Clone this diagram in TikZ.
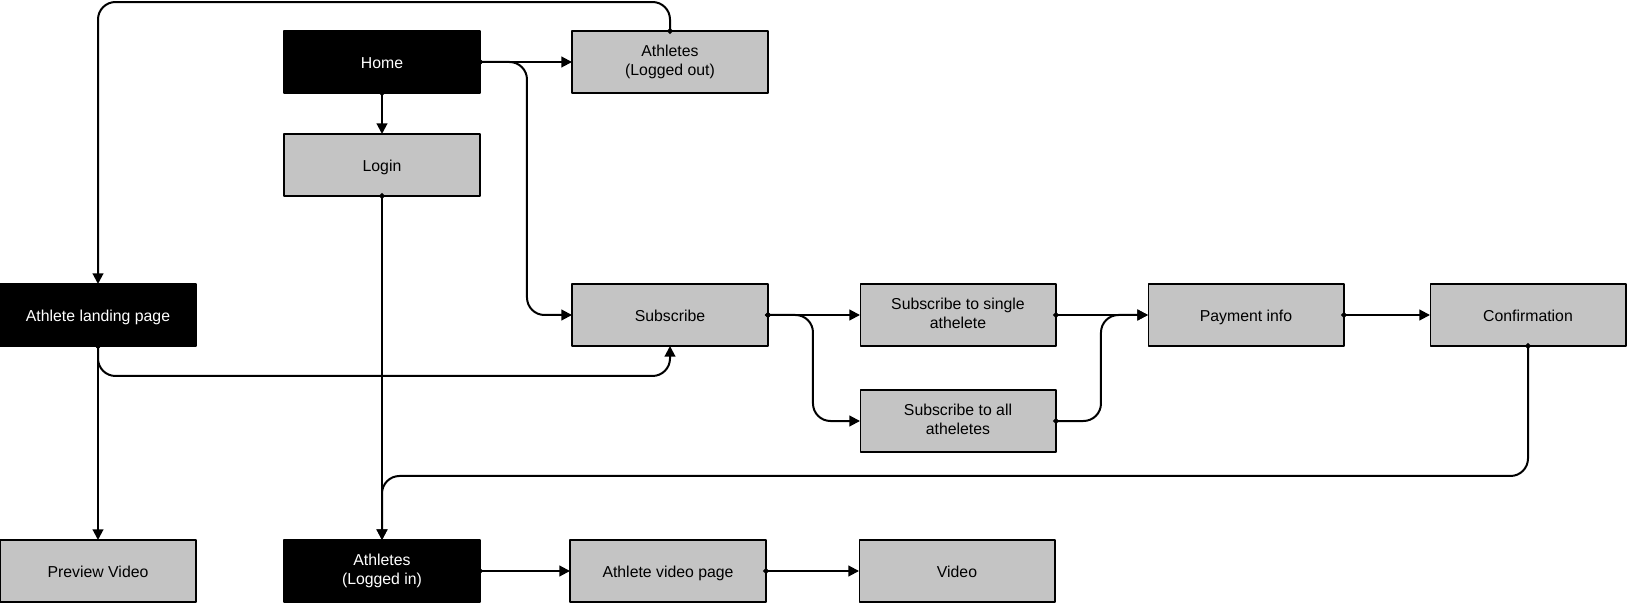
\documentclass[tikz,border=0pt]{standalone}
\usepackage{fontspec}
\setmainfont{Liberation Sans}
\usetikzlibrary{arrows.meta}
\definecolor{pagegray}{HTML}{C4C4C4}
\newcommand\lnstrut{\rule[-1.9pt]{0pt}{11.2pt}}
\begin{document}
\begin{tikzpicture}[x=0.02cm,y=-0.02cm,line join=round,
	page/.style={draw,line width=0.6pt,fill=pagegray,minimum width=3.92cm,minimum height=1.24cm,inner sep=0pt,outer sep=0pt,align=center,font=\fontsize{9}{11.2}\selectfont,execute at begin node=\lnstrut,execute at end node=\lnstrut},
	hub/.style={page,fill=black,text=white},
	flow/.style={{Circle[length=3.2pt]}-{Triangle[length=6pt,width=6pt]},line width=1.138pt,rounded corners=0.35cm,shorten <=-1.6pt}]
	\useasboundingbox (0,0) rectangle (1627,611);
	% pages
	\node[hub] (home) at (382,62) {Home};
	\node[page] (alo) at (670,62) {Athletes\\(Logged out)};
	\node[page] (login) at (382,165) {Login};
	\node[hub] (alp) at (98,315) {Athlete landing page};
	\node[page] (sub) at (670,315) {Subscribe};
	\node[page] (single) at (958,315) {Subscribe to single\\athelete};
	\node[page] (pay) at (1246,315) {Payment info};
	\node[page] (conf) at (1528,315) {Confirmation};
	\node[page] (all) at (958,421) {Subscribe to all\\atheletes};
	\node[page] (prev) at (98,571) {Preview Video};
	\node[hub] (lin) at (382,571) {Athletes\\(Logged in)};
	\node[page] (vpage) at (668,571) {Athlete video page};
	\node[page] (video) at (957,571) {Video};
	% links
	\draw[flow] (home.east) -- (alo.west);
	\draw[flow] (home.east) -- ++(47,0) |- (sub.west);
	\draw[flow] (home.south) -- (login.north);
	\draw[flow] (alo.north) -- ++(0,-29) -| (alp.north);
	\draw[flow] (login.south) -- (lin.north);
	\draw[flow] (alp.south) -- (prev.north);
	\draw[flow] (alp.south) -- ++(0,30) -| (sub.south);
	\draw[flow] (sub.east) -- (single.west);
	\draw[flow] (sub.east) -- ++(45,0) |- (all.west);
	\draw[flow] (single.east) -- (pay.west);
	\draw[flow] (all.east) -- ++(45,0) |- (pay.west);
	\draw[flow] (pay.east) -- (conf.west);
	\draw[flow] (conf.south) -- ++(0,130) -| (lin.north);
	\draw[flow] (lin.east) -- (vpage.west);
	\draw[flow] (vpage.east) -- (video.west);
\end{tikzpicture}
\end{document}
